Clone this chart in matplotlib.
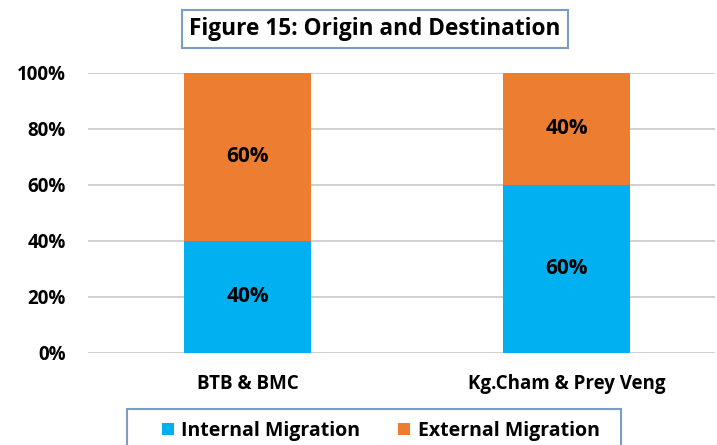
import matplotlib
matplotlib.use("Agg")
import matplotlib.pyplot as plt
from matplotlib.patches import Rectangle

categories = ["BTB & BMC", "Kg.Cham & Prey Veng"]
internal = [40, 60]
external = [60, 40]
series_names = ["Internal Migration", "External Migration"]
colors = ["#00B0F0", "#ED7D31"]

plt.rcParams['font.family'] = ['Open Sans', 'DejaVu Sans']
plt.rcParams['font.weight'] = 'bold'

W, H = 717, 445
fig = plt.figure(figsize=(W/100, H/100), dpi=100)
ax = fig.add_axes([88/W, 1-353/H, (715-88)/W, (353-73)/H])

x = list(range(len(categories)))
b1 = ax.bar(x, internal, width=0.4, color=colors[0], label=series_names[0], zorder=3)
b2 = ax.bar(x, external, width=0.4, bottom=internal, color=colors[1], label=series_names[1], zorder=3)

for i in x:
    ax.text(i, internal[i]/2, f"{internal[i]}%", ha='center', va='center', fontsize=15, fontweight='bold', zorder=4)
    ax.text(i, internal[i] + external[i]/2, f"{external[i]}%", ha='center', va='center', fontsize=15, fontweight='bold', zorder=4)

ax.set_xlim(-0.5, 1.4655)
ax.set_ylim(0, 100)
ax.set_yticks([0, 20, 40, 60, 80, 100])
ax.set_yticklabels([f"{v}%" for v in [0, 20, 40, 60, 80, 100]], fontsize=13.5, fontweight='bold')
ax.set_xticks(x)
ax.set_xticklabels(categories, fontsize=13.5, fontweight='bold')
ax.tick_params(axis='both', length=0)
ax.tick_params(axis='y', pad=16)
ax.tick_params(axis='x', pad=15)
ax.yaxis.grid(True, color='#c8c8c8', linewidth=1.2, zorder=0)
for s in ax.spines.values():
    s.set_visible(False)

fig.text(375/W, 1-29/H, "Figure 15: Origin and Destination", ha='center', va='center',
         fontsize=16.3, fontweight='bold',
         bbox=dict(boxstyle='square,pad=0.33', facecolor='white', edgecolor='#7a9cc6', linewidth=1.5))

# legend frame (drawn manually to match the centered Excel-style legend)
fig.patches.append(Rectangle((127/W, 1-460/H), (621-127)/W, (460-409)/H,
                             transform=fig.transFigure, facecolor='white',
                             edgecolor='#7a9cc6', linewidth=1.5, zorder=1))

leg = fig.legend(handles=[b1, b2], labels=series_names, loc='center left',
                 bbox_to_anchor=(162/W, 1-431/H), ncol=2, frameon=False,
                 handlelength=0.6, handleheight=0.6, handletextpad=0.4,
                 columnspacing=1.95, borderpad=0, borderaxespad=0,
                 prop={'weight': 'bold', 'size': 14})
leg.set_zorder(2)

fig.savefig("out.png", dpi=100)
